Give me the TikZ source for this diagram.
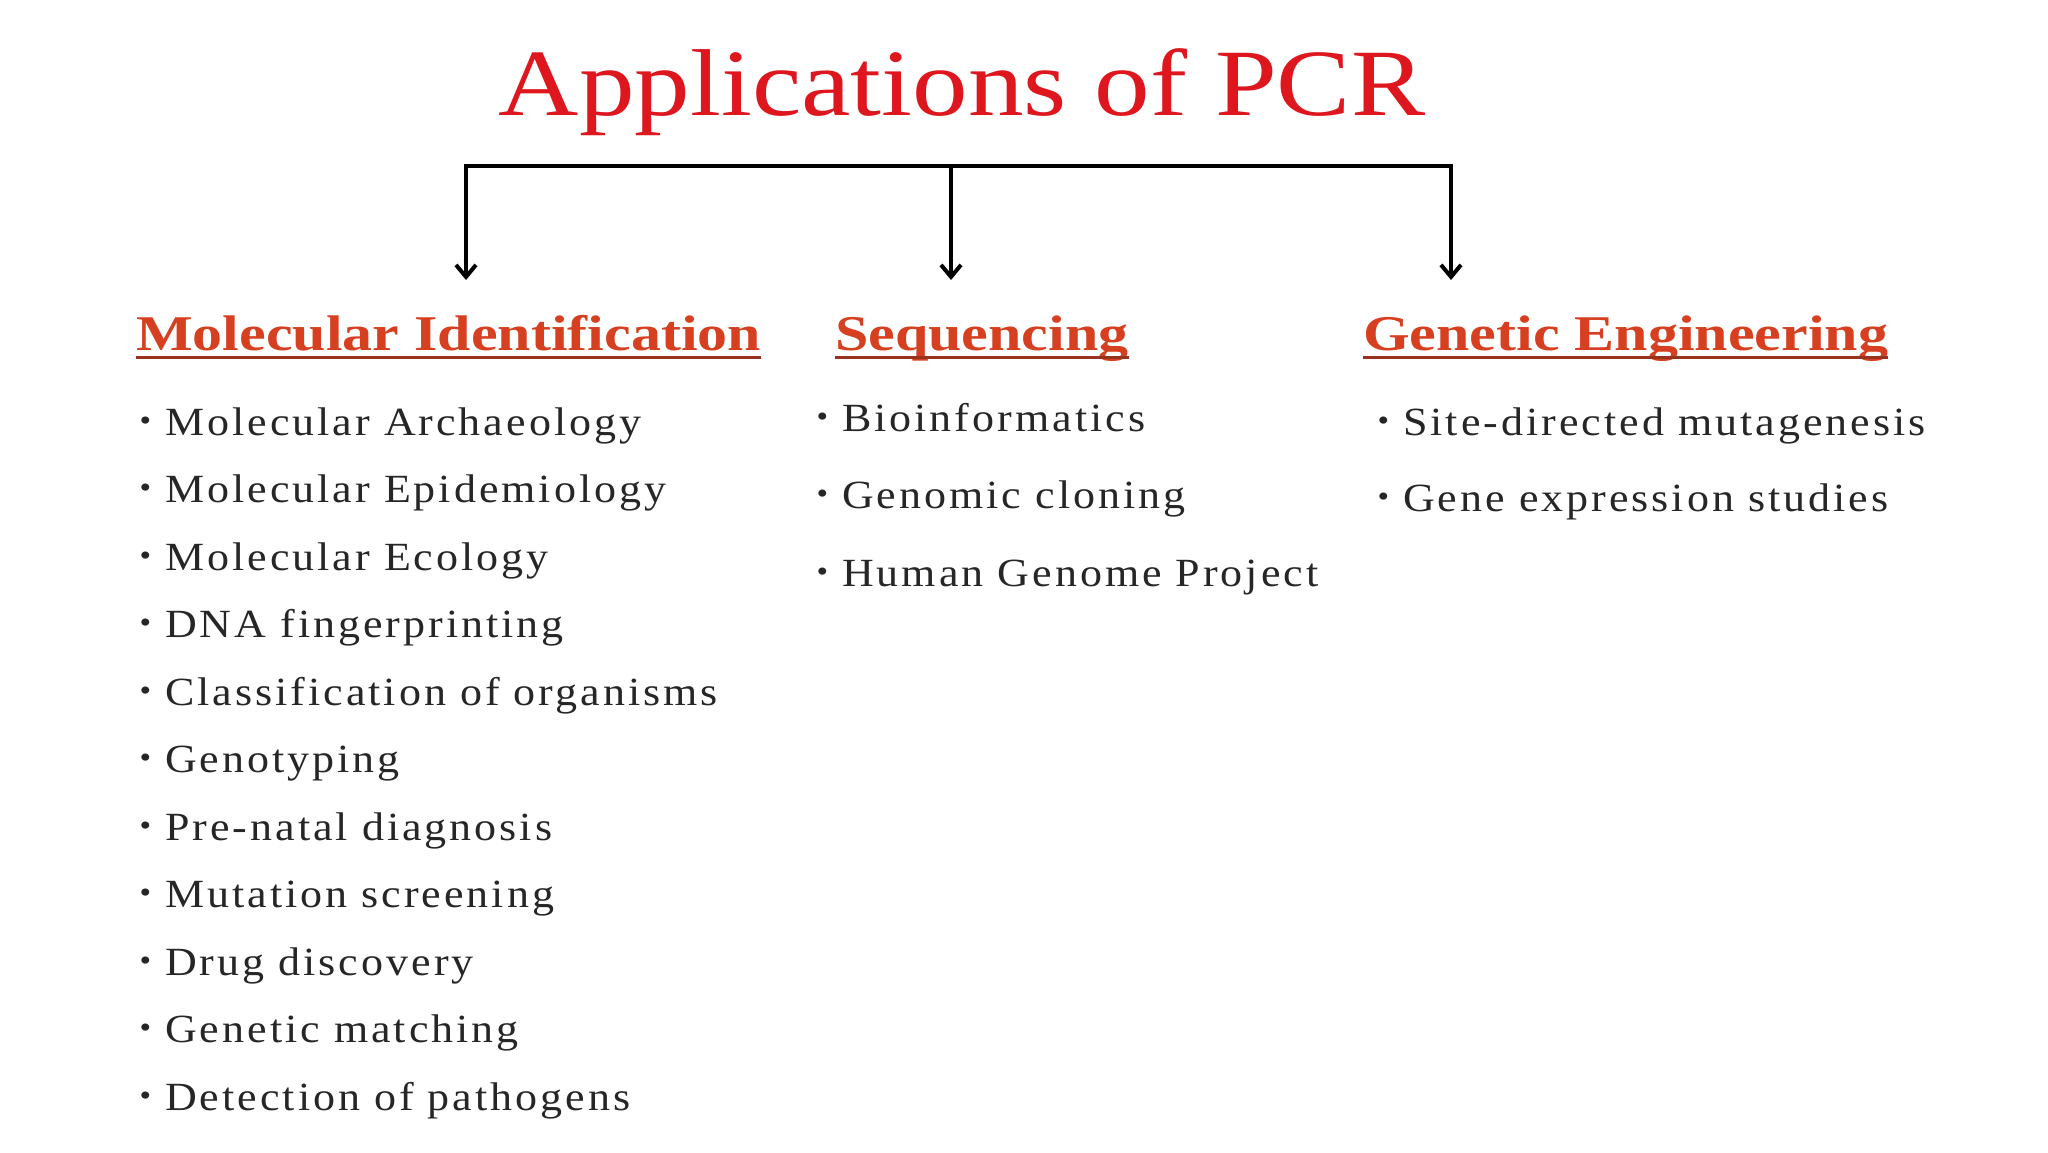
\documentclass[tikz,border=0pt]{standalone}
\usepackage{fontspec}
\setmainfont{Liberation Serif}
\newfontfamily\titlefont[FakeStretch=1.17]{Liberation Serif}
\newfontfamily\headfont[FakeStretch=1.2]{Liberation Serif}
\newfontfamily\itemfont[FakeStretch=1.1,LetterSpace=7.5]{Liberation Serif}
\usetikzlibrary{arrows.meta}
\definecolor{titlered}{RGB}{222,22,30}
\definecolor{headred}{RGB}{214,64,32}
\definecolor{ulred}{RGB}{150,50,30}
\newcommand{\bul}{\llap{\raisebox{5pt}{\fontsize{30}{30}\selectfont\textbullet}\hspace{14pt}}}
\tikzset{
  titletext/.style={inner sep=0pt, anchor=base, text=titlered, font=\titlefont\fontsize{95}{100}\selectfont},
  headtext/.style={inner sep=0pt, anchor=base west, text=headred, font=\headfont\bfseries\fontsize{50}{56}\selectfont},
  itemtext/.style={inner sep=0pt, anchor=base west, text=black!85, font=\itemfont\fontsize{40}{44}\selectfont},
  conn/.style={line width=4.5pt, draw=black},
  tip/.style={-{Straight Barb[length=12pt,width=20pt,line width=4pt]}},
  uline/.style={line width=3pt, draw=ulred}
}
\begin{document}
\begin{tikzpicture}[x=1pt,y=-1pt]
\useasboundingbox[fill=white] (0,0) rectangle (2048,1152);
\node[titletext] (title) at (962,115) {Applications of PCR};

\coordinate (j1) at (466,166);
\coordinate (j2) at (951,166);
\coordinate (j3) at (1451,166);
\coordinate (a1) at (466,280);
\coordinate (a2) at (951,280);
\coordinate (a3) at (1451,280);
\draw[conn, {Straight Barb[length=12pt,width=20pt,line width=4pt]}-{Straight Barb[length=12pt,width=20pt,line width=4pt]}] (a1) -- (j1) -- (j3) -- (a3);
\draw[conn, tip] (j2) -- (a2);

\node[headtext] (h1) at (136,350) {Molecular Identification};
\node[headtext] (h2) at (835,350) {Sequencing};
\node[headtext] (h3) at (1363,350) {Genetic Engineering};
\foreach \h in {h1,h2,h3}{
  \draw[uline] ([yshift=-7pt]\h.base west) -- ([yshift=-7pt]\h.base east);
}

\foreach \t [count=\i from 0] in {Molecular Archaeology, Molecular Epidemiology, Molecular Ecology, DNA fingerprinting, Classification of organisms, Genotyping, Pre-natal diagnosis, Mutation screening, Drug discovery, Genetic matching, Detection of pathogens}{
  \node[itemtext] (l\i) at (165,435+67.5*\i) {\bul\t};
}
\node[itemtext] (m0) at (842,431) {\bul Bioinformatics};
\node[itemtext] (m1) at (842,508) {\bul Genomic cloning};
\node[itemtext] (m2) at (842,586) {\bul Human Genome Project};
\node[itemtext] (r0) at (1403,435) {\bul Site-directed mutagenesis};
\node[itemtext] (r1) at (1403,511) {\bul Gene expression studies};
\end{tikzpicture}
\end{document}
